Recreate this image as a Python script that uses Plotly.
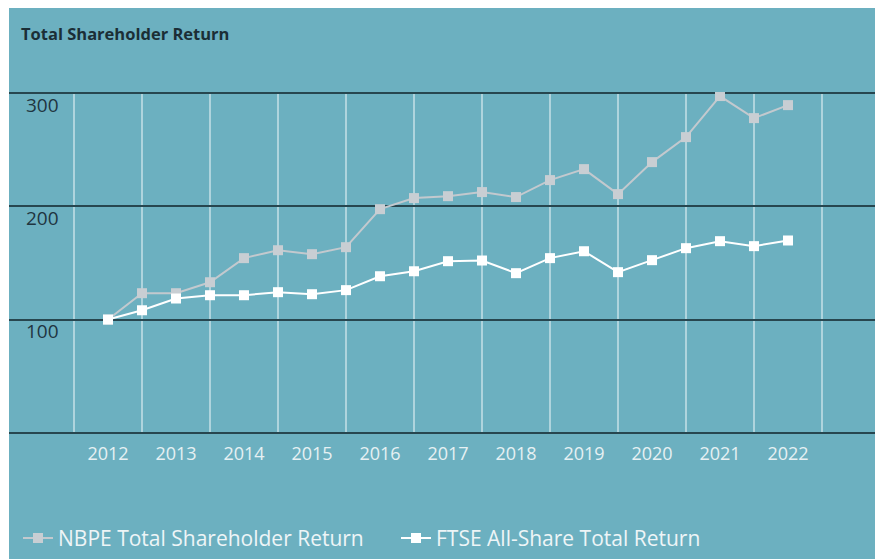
import plotly.graph_objects as go

# ── Data (half-year points, indexed from 100 at 2012) ─────────────────────────
periods = [2012 + 0.5 * i for i in range(21)]
nbpe_tsr = [100.0, 123.3, 123.3, 133.0, 154.3, 161.3, 157.8, 164.0, 197.6, 207.4,
            209.1, 212.7, 208.3, 223.3, 233.0, 210.9, 239.2, 261.3, 297.6, 278.1,
            289.6]
ftse_tr = [100.0, 108.2, 118.6, 121.5, 121.5, 124.2, 122.4, 126.0, 138.3, 142.7,
           151.6, 152.2, 141.0, 154.3, 160.4, 141.9, 152.5, 163.1, 169.3, 164.9,
           169.9]
year_ticks = list(range(2012, 2023))
year_labels = [str(y) for y in year_ticks]
year_dividers = [y - 0.5 for y in range(2012, 2024)]
y_ticks = [0, 100, 200, 300]
y_labels = ["", "100", "200", "300"]

TEAL = "#6cb0c0"
DARK = "#1f3b45"
FONT = "Open Sans, sans-serif"

fig = go.Figure()

fig.add_trace(go.Scatter(
    x=periods, y=nbpe_tsr, name="NBPE Total Shareholder Return",
    mode="lines+markers",
    line=dict(color="#c3c9ce", width=2),
    marker=dict(symbol="square", size=10, color="#c8ced3"),
))
fig.add_trace(go.Scatter(
    x=periods, y=ftse_tr, name="FTSE All-Share Total Return",
    mode="lines+markers",
    line=dict(color="#ffffff", width=2),
    marker=dict(symbol="square", size=10, color="#ffffff"),
))

# teal panel (the page body margin supplies most of the white border)
fig.add_shape(type="rect", xref="paper", yref="paper",
              x0=0, x1=1, y0=-0.38, y1=1.25,
              fillcolor=TEAL, line_width=0, layer="below")

fig.update_layout(
    width=875, height=551,
    paper_bgcolor="white",
    plot_bgcolor="rgba(0,0,0,0)",
    margin=dict(l=1, r=0, t=84, b=125),
    font=dict(family=FONT, color=DARK),
    title=dict(text="<b>Total Shareholder Return</b>", x=13 / 875, xanchor="left",
               y=1 - 26 / 551, yanchor="middle",
               font=dict(family=FONT, size=16.5, color="#1b2e36")),
    showlegend=True,
    legend=dict(orientation="h", x=0.0103, xanchor="left", y=-0.305, yanchor="middle",
                font=dict(size=21, color="#eef5f7"), bgcolor="rgba(0,0,0,0)",
                entrywidth=333, entrywidthmode="pixels"),
    xaxis=dict(
        range=[2010.544, 2023.397],
        tickvals=year_ticks, ticktext=year_labels,
        showgrid=False, zeroline=False, showline=False, ticks="",
        tickfont=dict(size=18, color="#e6f0f3"),
        ticklabelstandoff=7,
        minor=dict(tickvals=year_dividers, showgrid=True,
                   gridcolor="rgba(220,236,240,0.6)", gridwidth=1.5, ticks=""),
    ),
    yaxis=dict(
        range=[-1.2, 301.2],
        tickvals=y_ticks, ticktext=y_labels,
        showgrid=True, gridcolor="#27464f", gridwidth=1.5,
        zeroline=False, showline=False, ticks="",
        ticklabelposition="inside", ticklabelstandoff=14, ticklabelshift=12,
        tickfont=dict(size=19, color="#1f3540"),
    ),
)

fig.write_html("out.html")
